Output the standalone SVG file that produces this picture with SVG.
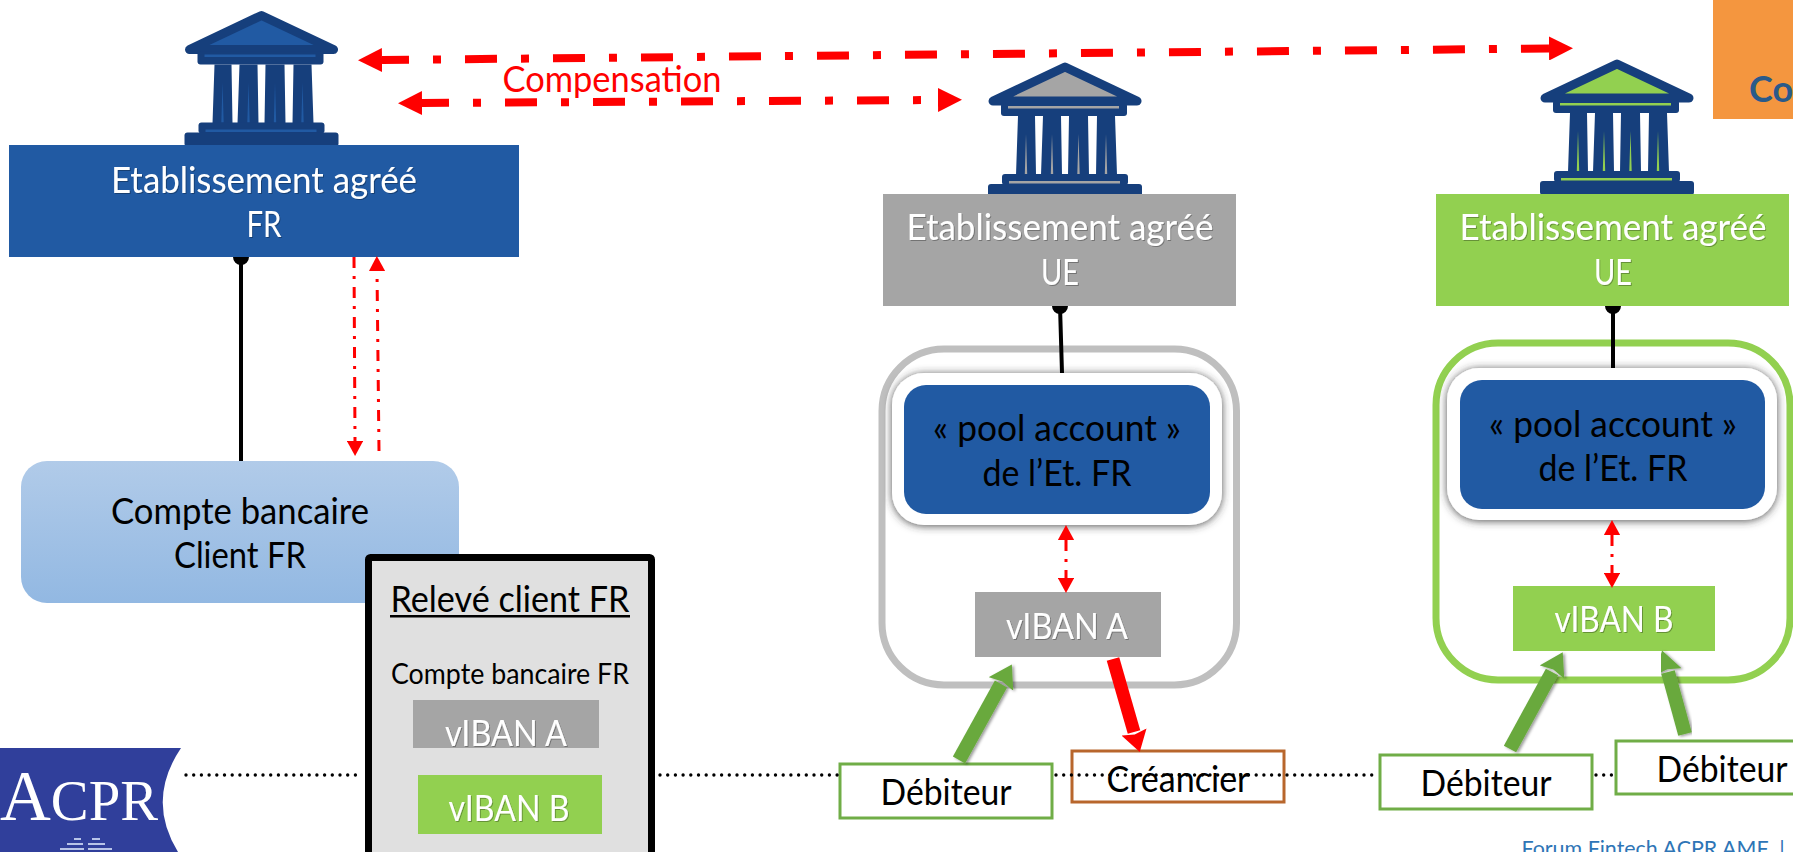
<svg xmlns="http://www.w3.org/2000/svg" xmlns:xlink="http://www.w3.org/1999/xlink" width="1793" height="852" viewBox="0 0 1793 852">
<style>
text{font-family:Lato,"Noto Sans",sans-serif;text-anchor:middle}
.w{fill:#fff;font-size:36px;filter:url(#ts);transform:translateY(1.5px)}
.k{fill:#000;font-size:36px;transform:translateY(1.5px)}
.b1{fill:#215AA3}.gr{fill:#A5A5A5}.gn{fill:#92D050}
.frame{fill:#fff;stroke-width:7}
.inner{fill:#fff;filter:url(#sh)}
.person{fill:#fff;stroke-width:3}
.red{fill:none;stroke:#f00}
.big{stroke-width:8;stroke-dasharray:32 24 8 24;marker-start:url(#hb);marker-end:url(#hb)}
.small{stroke-width:3;stroke-dasharray:11 8 3 8}
.blk{stroke:#000;stroke-width:4;fill:none}
.dots{fill:none;stroke:#000;stroke-width:3.4;stroke-linecap:round;stroke-dasharray:0 7.7}
.ga{fill:none;stroke:#69A93D;stroke-width:14;marker-end:url(#hg);filter:url(#as)}
.ra{fill:none;stroke:#f00;stroke-width:13;marker-end:url(#hr)}
.dk{fill:#163F7C}
</style>
<defs>
<linearGradient id="cg" x1="0" y1="0" x2="0" y2="1"><stop offset="0" stop-color="#B1CBE9"/><stop offset="1" stop-color="#92B8E2"/></linearGradient>
<filter id="ts" x="-10%" y="-20%" width="120%" height="150%"><feDropShadow dx="1" dy="1" stdDeviation="0.7" flood-color="#000" flood-opacity="0.3"/></filter>
<filter id="sh" x="-10%" y="-10%" width="120%" height="125%"><feDropShadow dx="0" dy="1" stdDeviation="4" flood-color="#333" flood-opacity="0.85"/></filter>
<filter id="as" x="-40%" y="-40%" width="180%" height="180%"><feDropShadow dx="2" dy="1" stdDeviation="1.5" flood-color="#000" flood-opacity="0.4"/></filter>
<marker id="hb" markerWidth="3" markerHeight="3" refX="0" refY="1.5" orient="auto-start-reverse"><path d="M0 0L3 1.5L0 3Z" fill="#f00"/></marker>
<marker id="hs" markerWidth="5" markerHeight="5.4" refX="0" refY="2.7" orient="auto-start-reverse"><path d="M0 0L5 2.7L0 5.4Z" fill="#f00"/></marker>
<marker id="hg" markerWidth="1.6" markerHeight="2" refX="0" refY="1" orient="auto"><path d="M0 0L1.6 1L0 2L.2 1Z" fill="#69A93D"/></marker>
<marker id="hr" markerWidth="1.6" markerHeight="2" refX="0" refY="1" orient="auto"><path d="M0 0L1.6 1L0 2L.2 1Z" fill="#f00"/></marker>
<g id="bank">
<path d="M0 5L72 39H-72Z" fill="currentColor" stroke="#163F7C" stroke-width="9" stroke-linejoin="round"/>
<rect class="dk" x="-64" y="41" width="126" height="13" rx="3"/><rect x="-57" y="44" width="111" height="2.5" fill="currentColor"/>
<path class="dk" d="M-47 54H-30L-29 113H-49ZM-22 54H-4L-3 113H-24ZM4 54H23L24 113H3ZM32 54H50L52 113H31Z"/>
<path fill="currentColor" d="M-39 72L-37.800 112H-40.200ZM-13 72L-11.800 112H-14.200ZM13.500 72L14.700 112H12.300ZM41 72L42.200 112H39.800Z"/>
<rect class="dk" x="-63" y="112" width="126" height="11" rx="3"/><rect x="-56" y="119" width="111" height="2.5" fill="currentColor"/>
<rect class="dk" x="-77" y="122" width="154" height="14" rx="3"/>
</g>
</defs>

<rect width="1793" height="852" fill="#fff"/>

<g id="logo-acpr">
<path d="M0 748H181Q146 800 178 852H0Z" fill="#303F9B"/>
<text x="79" y="820" textLength="158" lengthAdjust="spacingAndGlyphs" style="font-family:'Liberation Serif',serif;fill:#fff"><tspan font-size="72">A</tspan><tspan font-size="58">CPR</tspan></text>
<path d="M74 838h7v2h-7zM92 838h8v2h-8zM67 843h16v2H67zM88 843h17v2H88zM60 848h24v2H60zM88 848h24v2H88z" fill="#B8C4E8"/>
</g>

<g id="banque-fr" color="#215AA3"><use href="#bank" xlink:href="#bank" transform="translate(261.500 10.500)"/></g>
<g id="etablissement-fr">
<rect class="b1" x="9" y="145" width="510" height="112"/>
<text class="w" x="264" y="191" textLength="306" lengthAdjust="spacingAndGlyphs">Etablissement agréé</text>
<text class="w" x="264" y="235" textLength="35" lengthAdjust="spacingAndGlyphs">FR</text>
</g>

<g id="banque-a" color="#A5A5A5"><use href="#bank" xlink:href="#bank" transform="translate(1065 62)"/></g>
<g id="etablissement-a">
<rect class="gr" x="883" y="194" width="353" height="112"/>
<text class="w" x="1060" y="238" textLength="307" lengthAdjust="spacingAndGlyphs">Etablissement agréé</text>
<text class="w" x="1060" y="283" textLength="38" lengthAdjust="spacingAndGlyphs">UE</text>
</g>

<g id="banque-b" color="#92D050"><use href="#bank" xlink:href="#bank" transform="translate(1617 59)"/></g>
<g id="etablissement-b">
<rect class="gn" x="1436" y="194" width="353" height="112"/>
<text class="w" x="1613" y="238" textLength="307" lengthAdjust="spacingAndGlyphs">Etablissement agréé</text>
<text class="w" x="1613" y="283" textLength="38" lengthAdjust="spacingAndGlyphs">UE</text>
</g>

<g id="orange"><rect x="1713" y="0" width="80" height="119" fill="#F4963F"/>
<text x="1749" y="102" style="text-anchor:start;font-size:36px;font-weight:700;fill:#2A5A8A">Coo</text></g>

<g id="compte-client">
<rect x="21" y="461" width="438" height="142" rx="26" fill="url(#cg)"/>
<text class="k" x="240" y="522" textLength="258" lengthAdjust="spacingAndGlyphs">Compte bancaire</text>
<text class="k" x="240" y="566" textLength="132" lengthAdjust="spacingAndGlyphs">Client FR</text>
</g>

<g id="releve">
<rect x="368.500" y="557.500" width="283" height="310" rx="2" fill="#E0E0E0" stroke="#000" stroke-width="7"/>
<text class="k" x="510" y="610" textLength="239" lengthAdjust="spacingAndGlyphs">Relevé client FR</text>
<rect x="390" y="615" width="240" height="2.500" fill="#000"/>
<text class="k" x="510" y="682" textLength="238" lengthAdjust="spacingAndGlyphs" style="font-size:28px">Compte bancaire FR</text>
<rect class="gr" x="413" y="700" width="186" height="48"/>
<text class="w" x="506" y="744" textLength="122" lengthAdjust="spacingAndGlyphs">vIBAN A</text>
<rect class="gn" x="418" y="775" width="184" height="59"/>
<text class="w" x="509" y="819" textLength="121" lengthAdjust="spacingAndGlyphs">vIBAN B</text>
</g>

<g id="pool-a">
<rect class="frame" x="882" y="349" width="354.500" height="336" rx="62" stroke="#BFBFBF"/>
<rect class="inner" x="892" y="373" width="330" height="152" rx="32"/>
<rect class="b1" x="904" y="385" width="306" height="129" rx="22"/>
<text class="k" x="1057" y="439" textLength="248" lengthAdjust="spacingAndGlyphs">« pool account »</text>
<text class="k" x="1057" y="484" textLength="149" lengthAdjust="spacingAndGlyphs">de l’Et. FR</text>
</g>
<g id="viban-a">
<rect class="gr" x="975" y="592" width="186" height="65"/>
<text class="w" x="1067" y="637" textLength="122" lengthAdjust="spacingAndGlyphs">vIBAN A</text>
</g>

<g id="pool-b">
<rect class="frame" x="1436" y="343" width="354" height="337" rx="62" stroke="#92D050" stroke-width="8"/>
<rect class="inner" x="1447" y="368" width="330" height="152" rx="32"/>
<rect class="b1" x="1460" y="380" width="305" height="129" rx="22"/>
<text class="k" x="1613" y="435" textLength="248" lengthAdjust="spacingAndGlyphs">« pool account »</text>
<text class="k" x="1613" y="479" textLength="149" lengthAdjust="spacingAndGlyphs">de l’Et. FR</text>
</g>
<g id="viban-b">
<rect class="gn" x="1513" y="586" width="202" height="65"/>
<text class="w" x="1614" y="630" textLength="119" lengthAdjust="spacingAndGlyphs">vIBAN B</text>
</g>

<g id="debiteur-a"><rect class="person" x="840" y="764" width="212" height="54" stroke="#70AD47"/>
<text class="k" x="946" y="803" textLength="131" lengthAdjust="spacingAndGlyphs">Débiteur</text></g>
<g id="creancier"><rect class="person" x="1072" y="751" width="212" height="51" stroke="#B8662C"/>
<text class="k" x="1178" y="790" textLength="143" lengthAdjust="spacingAndGlyphs">Créancier</text></g>
<g id="debiteur-b1"><rect class="person" x="1380" y="755" width="212" height="54" stroke="#70AD47"/>
<text class="k" x="1486" y="794" textLength="131" lengthAdjust="spacingAndGlyphs">Débiteur</text></g>
<g id="debiteur-b2"><rect class="person" x="1616" y="741" width="212" height="53" stroke="#70AD47"/>
<text class="k" x="1722" y="780" textLength="131" lengthAdjust="spacingAndGlyphs">Débiteur</text></g>

<g id="label-compensation"><text x="612" y="92" textLength="219" lengthAdjust="spacingAndGlyphs" style="fill:#f00;font-size:36px">Compensation</text></g>
<g id="footer"><text x="1645" y="856" textLength="247" lengthAdjust="spacingAndGlyphs" style="fill:#2E75B6;font-size:22px">Forum Fintech ACPR AMF</text><text x="1782" y="856" style="fill:#2E75B6;font-size:22px">|</text></g>

<g id="connectors">
<path class="dots" d="M186 775H362M660 775H838M1056 775H1378M1596 775H1614"/>
<path class="blk" d="M241 257V461M1060 306L1062 373M1613 306V368"/>
<path d="M233 257a8 8 0 0 0 16 0ZM1052 306a8 8 0 0 0 16 0ZM1605 306a8 8 0 0 0 16 0Z" fill="#000"/>
<path class="red big" d="M382 60L1549 48.500" stroke-dashoffset="5"/>
<path class="red big" d="M422 103L938 100" stroke-dashoffset="5"/>
<path class="red small" d="M354 257L355 441" marker-end="url(#hs)"/>
<path class="red small" d="M379 451L377 271" marker-end="url(#hs)"/>
<path class="red small" d="M1066 540V578" marker-start="url(#hs)" marker-end="url(#hs)"/>
<path class="red small" d="M1612 535V573" marker-start="url(#hs)" marker-end="url(#hs)"/>
<path class="ga" d="M959 760L1001 684"/>
<path class="ra" d="M1113 659L1134 732"/>
<path class="ga" d="M1510 749L1552 672"/>
<path class="ga" d="M1685 734L1668 672"/>
</g>
</svg>
